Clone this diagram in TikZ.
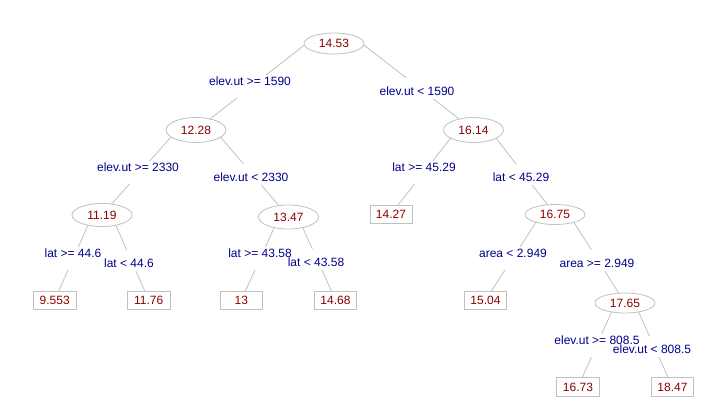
\documentclass[tikz,border=0pt]{standalone}
\usepackage{fontspec}
\setmainfont{Liberation Sans}
\usetikzlibrary{shapes.geometric,backgrounds,calc}
\pgfdeclarelayer{labelbg}
\pgfsetlayers{background,labelbg,main}
\definecolor{valred}{RGB}{139,0,0}
\definecolor{splitblue}{RGB}{0,0,139}
\definecolor{linegray}{RGB}{192,192,192}
\newcommand\treebranch[2]{\draw[edge] let \p1=(#1.center), \p2=(#2.center) in (\p1) -- ({\x1+0.2*(\x2-\x1)},\y1) -- (\p2);}
\tikzset{
  inner/.style={ellipse, draw=linegray, fill=white, minimum width=60pt, inner sep=0pt, text=valred, line width=0.8pt},
  leaf/.style={rectangle, draw=linegray, fill=white, minimum width=42.5pt, minimum height=18pt, inner sep=0pt, text=valred, line width=0.8pt},
  split/.style={text=splitblue, inner sep=0pt, text height=8.6pt, text depth=0pt, anchor=base},
  edge/.style={draw=linegray, line width=0.8pt}
}
\begin{document}
\begin{tikzpicture}[x=1pt, y=-1pt, font=\fontsize{12}{14}\selectfont]
\useasboundingbox (0,0) rectangle (716,413);
% inner nodes
\node[inner, minimum height=21pt] (r) at (334,43.5) {14.53};
\node[inner, minimum height=25pt] (a) at (196,130) {12.28};
\node[inner, minimum height=25pt] (b) at (473.5,130) {16.14};
\node[inner, minimum height=23pt] (c) at (102,215) {11.19};
\node[inner, minimum height=24pt] (d) at (288.5,217) {13.47};
\node[inner, minimum height=20pt] (f) at (555,214.5) {16.75};
\node[inner, minimum height=20pt] (l) at (625,303) {17.65};
% leaves
\node[leaf, minimum width=42pt] (e) at (391,214) {14.27};
\node[leaf] (g) at (54.7,300) {9.553};
\node[leaf] (h) at (148.7,300) {11.76};
\node[leaf] (i) at (241.3,300) {13};
\node[leaf] (j) at (335.5,300) {14.68};
\node[leaf] (k) at (485.5,300) {15.04};
\node[leaf, minimum height=19pt] (m) at (578,387) {16.73};
\node[leaf, minimum height=19pt] (n) at (672.5,387) {18.47};
% branches
\begin{scope}[on background layer]
\treebranch{r}{a}
\treebranch{r}{b}
\treebranch{a}{c}
\treebranch{a}{d}
\treebranch{b}{e}
\treebranch{b}{f}
\treebranch{c}{g}
\treebranch{c}{h}
\treebranch{d}{i}
\treebranch{d}{j}
\treebranch{f}{k}
\treebranch{f}{l}
\treebranch{l}{m}
\treebranch{l}{n}
\end{scope}
% split labels
\node[split] (s1) at (250,85.3) {elev.ut >= 1590};
\node[split] (s2) at (417,95.3) {elev.ut < 1590};
\node[split] (s3) at (138,171.3) {elev.ut >= 2330};
\node[split] (s4) at (251,181.3) {elev.ut < 2330};
\node[split] (s5) at (424,171.3) {lat >= 45.29};
\node[split] (s6) at (521,181.3) {lat < 45.29};
\node[split] (s7) at (73,257.3) {lat >= 44.6};
\node[split] (s8) at (129,267.3) {lat < 44.6};
\node[split] (s9) at (260,257.3) {lat >= 43.58};
\node[split] (s10) at (316,266.3) {lat < 43.58};
\node[split] (s11) at (513,257.3) {area < 2.949};
\node[split] (s12) at (597,267.3) {area >= 2.949};
\node[split] (s13) at (597,344.3) {elev.ut >= 808.5};
\node[split] (s14) at (652,353.3) {elev.ut < 808.5};
% white backgrounds behind split labels
\begin{pgfonlayer}{labelbg}
\foreach \s in {s1,s3,s5,s7,s9,s11,s13}
  \fill[white] ([xshift=-1pt,yshift=1.5pt]\s.north west) rectangle ([xshift=1pt,yshift=-12pt]\s.south east);
\foreach \s in {s2,s4,s6,s8,s10,s12,s14}
  \fill[white] ([xshift=-1pt,yshift=9pt]\s.north west) rectangle ([xshift=1pt,yshift=-3pt]\s.south east);
\end{pgfonlayer}
\end{tikzpicture}
\end{document}
